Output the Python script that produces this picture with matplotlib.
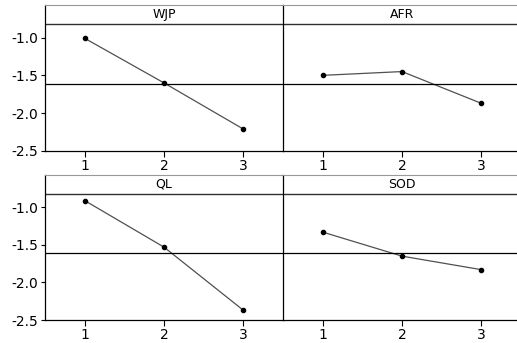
import matplotlib.pyplot as plt

levels = [1, 2, 3]
factors = ['WJP', 'AFR', 'QL', 'SOD']
means = {
    'WJP': [-1.01, -1.60, -2.21],
    'AFR': [-1.50, -1.45, -1.87],
    'QL': [-0.91, -1.53, -2.37],
    'SOD': [-1.33, -1.65, -1.83],
}
grand_mean = -1.61
yticks = [-1.0, -1.5, -2.0, -2.5]
ytick_labels = ['-1.0', '-1.5', '-2.0', '-2.5']

fig = plt.figure(figsize=(5.17, 3.43), dpi=100)

W, H = 517, 343
# panel boxes in pixels: left, top, right, bottom
boxes = [(45, 5, 283, 151), (283, 5, 521, 151),
         (45, 175, 283, 320), (283, 175, 521, 320)]

for i, (name, (l, t, r, b)) in enumerate(zip(factors, boxes)):
    ax = fig.add_axes([l / W, 1 - b / H, (r - l) / W, (b - t) / H])
    ax.plot(levels, means[name], color='#505050', lw=0.9, marker='o',
            markersize=3, markerfacecolor='black', markeredgecolor='black')
    ax.axhline(grand_mean, color='black', lw=0.9)
    ax.axhline(-0.82, color='#303030', lw=1.0)
    ax.text(2, -0.695, name, ha='center', va='center', fontsize=9)
    ax.set_xlim(0.5, 3.5)
    ax.set_ylim(-2.5, -0.57)
    ax.set_xticks(levels)
    ax.set_xticklabels([str(v) for v in levels], fontsize=10)
    ax.tick_params(axis='x', length=4, width=0.8, pad=1.5)
    ax.spines['top'].set_color('#999999')
    ax.spines['right'].set_visible(False)
    ax.spines['left'].set_linewidth(0.9)
    ax.spines['bottom'].set_linewidth(0.9)
    if i % 2 == 0:
        ax.set_yticks(yticks)
        ax.set_yticklabels(ytick_labels, fontsize=10)
        ax.tick_params(axis='y', length=3, width=0.8, pad=2)
    else:
        ax.set_yticks([])

fig.savefig('out.png', dpi=100)
